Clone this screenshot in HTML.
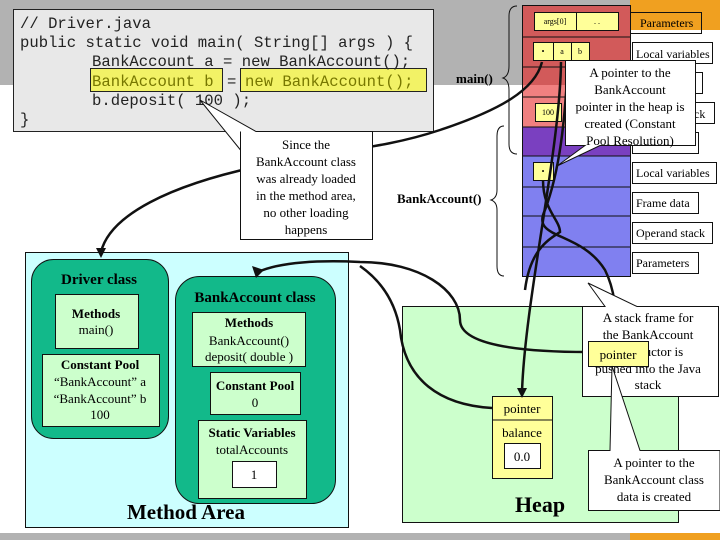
<!DOCTYPE html>
<html><head><meta charset="utf-8"><style>
body{margin:0;width:720px;height:540px;overflow:hidden;background:#fff}
svg text{font-family:"Liberation Serif",serif}
.m{font-family:"Liberation Mono",monospace;font-size:15.6px;fill:#222}
</style></head><body>
<svg width="720" height="540" viewBox="0 0 720 540" xmlns="http://www.w3.org/2000/svg">
<rect x="0" y="0" width="630" height="85" fill="#b2b2b2"/>
<rect x="630" y="0" width="90" height="30" fill="#f0a020"/>
<rect x="0" y="533" width="630" height="7" fill="#b2b2b2"/>
<rect x="630" y="533" width="90" height="7" fill="#f0a020"/>

<!-- code box -->
<rect x="13.5" y="9.5" width="420" height="122" fill="#e8e8e8" stroke="#222"/>
<rect x="90.5" y="68.5" width="132" height="23" fill="#f2f266" stroke="#222"/>
<rect x="240.5" y="68.5" width="186" height="23" fill="#f2f266" stroke="#222"/>
<text class="m" x="20" y="28">// Driver.java</text>
<text class="m" x="20" y="47">public static void main( String[] args ) {</text>
<text class="m" x="92" y="66">BankAccount a = new BankAccount();</text>
<text class="m" x="92" y="86" style="fill:#777700">BankAccount b</text>
<text class="m" x="227" y="86">=</text>
<text class="m" x="245" y="86" style="fill:#777700">new BankAccount();</text>
<text class="m" x="92" y="105">b.deposit( 100 );</text>
<text class="m" x="20" y="124">}</text>

<!-- stack -->
<rect x="522" y="5" width="108" height="80" fill="#d25a5a"/>
<rect x="522" y="85" width="108" height="42" fill="#f08080"/>
<rect x="522" y="127" width="108" height="29" fill="#7a40c0"/>
<rect x="522" y="156" width="108" height="121" fill="#8080f0"/>
<g stroke="#111" fill="none">
<rect x="522.5" y="5.5" width="108" height="271"/>
<line x1="522" y1="37" x2="630" y2="37"/><line x1="522" y1="67" x2="630" y2="67"/>
<line x1="522" y1="97" x2="630" y2="97"/><line x1="522" y1="127" x2="630" y2="127"/>
<line x1="522" y1="156" x2="630" y2="156"/><line x1="522" y1="187" x2="630" y2="187"/>
<line x1="522" y1="216" x2="630" y2="216"/><line x1="522" y1="247" x2="630" y2="247"/>
</g>
<g stroke="#111" fill="#ffff99">
<rect x="534.5" y="12.5" width="42" height="18"/><rect x="576.5" y="12.5" width="42" height="18"/>
<rect x="533.5" y="42.5" width="20" height="18"/><rect x="553.5" y="42.5" width="18" height="18"/><rect x="571.5" y="42.5" width="18" height="18"/>
<rect x="535.5" y="103.5" width="26" height="18"/>
<rect x="533.5" y="162.5" width="20" height="18"/>
</g>
<g font-size="8" text-anchor="middle">
<text x="555" y="24">args[0]</text><text x="597" y="24">. .</text>
<text x="543" y="54">•</text><text x="562" y="54">a</text><text x="580" y="54">b</text>
<text x="548" y="115">100</text><text x="543" y="174">•</text>
</g>
<g stroke="#111" fill="#fff">
<rect x="632.5" y="42.5" width="80" height="21"/>
<rect x="632.5" y="72.5" width="70" height="21"/>
<rect x="632.5" y="102.5" width="82" height="21"/>
<rect x="632.5" y="132.5" width="66" height="21"/>
<rect x="632.5" y="162.5" width="84" height="21"/>
<rect x="632.5" y="192.5" width="66" height="21"/>
<rect x="632.5" y="222.5" width="80" height="21"/>
<rect x="632.5" y="252.5" width="66" height="21"/>
</g>
<rect x="630.5" y="12.5" width="71" height="21" fill="none" stroke="#111"/>
<g font-size="12">
<text x="640" y="27">Parameters</text>
<text x="636" y="58">Local variables</text>
<text x="636" y="177">Local variables</text>
<text x="636" y="207">Frame data</text>
<text x="636" y="237">Operand stack</text>
<text x="636" y="267">Parameters</text>
<text x="694" y="118">ck</text>
</g>
<!-- braces -->
<path d="M517 6 Q509 6 509 16 L509 66 Q509 76 503 78 Q509 80 509 90 L509 144 Q509 154 517 154" fill="none" stroke="#111"/>
<path d="M504 126 Q497 126 497 136 L497 190 Q497 198 491 200 Q497 202 497 210 L497 266 Q497 276 504 276" fill="none" stroke="#111"/>
<text x="456" y="83" font-size="13" font-weight="bold">main()</text>
<text x="397" y="203" font-size="13" font-weight="bold">BankAccount()</text>

<!-- Method area -->
<rect x="25.5" y="252.5" width="323" height="275" fill="#ccffff" stroke="#111"/>
<rect x="31.5" y="259.5" width="137" height="179" rx="22" fill="#12b98a" stroke="#111"/>
<rect x="175.5" y="276.5" width="160" height="227" rx="24" fill="#12b98a" stroke="#111"/>
<g stroke="#111" fill="#ccffcc">
<rect x="55.5" y="294.5" width="83" height="54"/>
<rect x="42.5" y="354.5" width="117" height="72"/>
<rect x="192.5" y="312.5" width="113" height="54"/>
<rect x="210.5" y="372.5" width="90" height="42"/>
<rect x="198.5" y="420.5" width="108" height="78"/>
</g>
<rect x="232.5" y="461.5" width="44" height="26" fill="#fff" stroke="#111"/>
<g text-anchor="middle" font-size="13">
<text x="99" y="284" font-size="15" font-weight="bold">Driver class</text>
<text x="96" y="318" font-weight="bold">Methods</text><text x="96" y="334">main()</text>
<text x="100" y="369" font-weight="bold">Constant Pool</text>
<text x="100" y="386">“BankAccount” a</text><text x="100" y="403">“BankAccount” b</text><text x="100" y="419">100</text>
<text x="255" y="302" font-size="15" font-weight="bold">BankAccount class</text>
<text x="249" y="327" font-weight="bold">Methods</text><text x="249" y="345">BankAccount()</text><text x="249" y="361">deposit( double )</text>
<text x="255" y="390" font-weight="bold">Constant Pool</text><text x="255" y="407">0</text>
<text x="252" y="437" font-weight="bold">Static Variables</text><text x="252" y="454">totalAccounts</text>
<text x="254" y="479">1</text>
<text x="186" y="519" font-size="21" font-weight="bold">Method Area</text>
</g>

<!-- Heap -->
<rect x="402.5" y="306.5" width="276" height="216" fill="#ccffcc" stroke="#111"/>
<rect x="492.5" y="396.5" width="60" height="82" fill="#ffff99" stroke="#111"/>
<line x1="492" y1="420" x2="552" y2="420" stroke="#111"/>
<rect x="504.5" y="443.5" width="36" height="25" fill="#fff" stroke="#111"/>
<g text-anchor="middle" font-size="13">
<text x="522" y="413">pointer</text><text x="522" y="437">balance</text><text x="522" y="461">0.0</text>
<text x="540" y="512" font-size="22" font-weight="bold">Heap</text>
</g>

<!-- connectors -->
<g fill="none" stroke="#111" stroke-width="2.5">
<path d="M542 62 C535 90 500 110 440 130 C380 150 330 150 260 166 C170 185 110 215 101 252"/>
<path d="M588 352 C520 352 460 345 460 320 C460 290 420 262 360 262 C320 260 280 262 258 272"/>
<path d="M492 408 C440 405 405 380 400 330 C395 300 380 280 360 266"/>
<path d="M561 62 C560 150 525 300 522 392"/>
<path d="M568 62 C565 120 560 170 545 210 C530 240 580 230 605 270 C615 290 616 310 617 338"/>
<path d="M543 180 C543 210 560 220 560 232 C548 240 530 250 525 290"/>
</g>
<path d="M96 248 L101 258 L106 248 Z" fill="#111"/>
<path d="M252 266 L256 278 L264 270 Z" fill="#111"/>
<path d="M517 388 L522 398 L527 388 Z" fill="#111"/>
<path d="M612 334 L617 344 L622 334 Z" fill="#111"/>

<!-- callouts -->
<path d="M240.5 131.5 L240.5 239.5 L372.5 239.5 L372.5 131.5 L256 131.5 L200 100 L240.5 150" fill="#fff" stroke="#111"/>
<g text-anchor="middle" font-size="13">
<text x="306" y="149">Since the</text><text x="306" y="166">BankAccount class</text>
<text x="306" y="183">was already loaded</text><text x="306" y="200">in the method area,</text>
<text x="306" y="217">no other loading</text><text x="306" y="234">happens</text>
</g>
<path d="M565.5 60.5 L695.5 60.5 L695.5 145.5 L600 145.5 L557 166 L585 145.5 L565.5 145.5 Z" fill="#fff" stroke="#111"/>
<g text-anchor="middle" font-size="13">
<text x="630" y="77">A pointer to the</text><text x="630" y="94">BankAccount</text>
<text x="630" y="111">pointer in the heap is</text><text x="630" y="128">created (Constant</text>
<text x="630" y="145">Pool Resolution)</text>
</g>
<path d="M582.5 306.5 L605 306.5 L588 283 L637 306.5 L718.5 306.5 L718.5 396.5 L582.5 396.5 Z" fill="#fff" stroke="#111"/>
<g text-anchor="middle" font-size="13">
<text x="648" y="322">A stack frame for</text><text x="648" y="339">the BankAccount</text>
<text x="648" y="356">constructor is</text><text x="648" y="373">pushed into the Java</text>
<text x="648" y="389">stack</text>
</g>
<rect x="588.5" y="341.5" width="60" height="25" fill="#ffff99" stroke="#111"/>
<text x="618" y="359" text-anchor="middle" font-size="13">pointer</text>
<path d="M588.5 450.5 L610 450.5 L612 366 L640 450.5 L720 450.5 L720 510.5 L588.5 510.5 Z" fill="#fff" stroke="#111"/>
<g text-anchor="middle" font-size="13">
<text x="654" y="467">A pointer to the</text><text x="654" y="484">BankAccount class</text>
<text x="654" y="501">data is created</text>
</g>
</svg>
</body></html>
